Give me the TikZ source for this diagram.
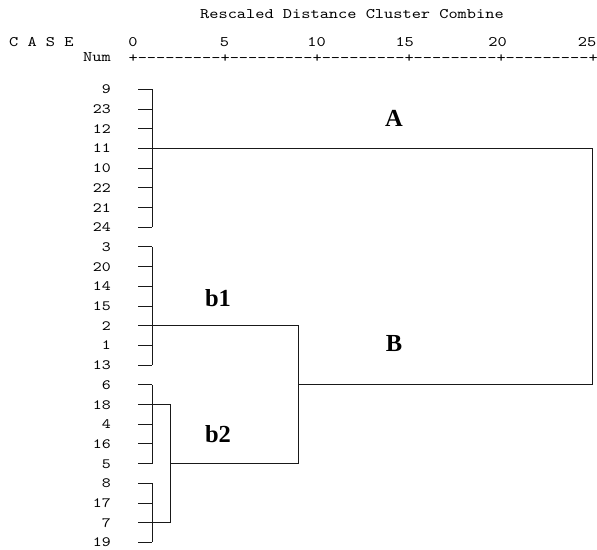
\documentclass[tikz,border=0pt]{standalone}
\usepackage{fontspec}
\setmainfont{Liberation Serif}
\newfontfamily\monof{lmmono10-regular.otf}[FakeStretch=1.2]
\begin{document}
\begin{tikzpicture}[x=1pt,y=-1pt,
  lbl/.style={font=\monof\fontsize{14.2}{16}\selectfont, anchor=base east, inner sep=0pt, text=black},
  axt/.style={font=\monof\fontsize{14.6}{18}\selectfont, inner sep=0pt, text=black},
  grp/.style={font=\bfseries\fontsize{24.5}{28}\selectfont, inner sep=0pt},
  den/.style={line width=0.9pt, black!90}]
\useasboundingbox (0,0) rectangle (597,549);
% header
\node[axt, anchor=base west] (title) at (200,18) {Rescaled Distance Cluster Combine};
\node[axt, anchor=base west] (case) at (9,46.5) {C A S E};
\node[axt, anchor=base east] (num) at (111,61) {Num};
\node[axt, anchor=base] (a0) at (133,46.5) {0};
\node[axt, anchor=base] (a5) at (224.5,46.5) {5};
\node[axt, anchor=base] (a10) at (316.5,46.5) {10};
\node[axt, anchor=base] (a15) at (404.7,46.5) {15};
\node[axt, anchor=base] (a20) at (497.5,46.5) {20};
\node[axt, anchor=base] (a25) at (587,46.5) {25};
\node[axt, anchor=base west] (axis) at (128.4,62) {+---------+---------+---------+---------+---------+};
% leaves
\foreach \lab [count=\i from 0] in {9,23,12,11,10,22,21,24,3,20,14,15,2,1,13,6,18,4,16,5,8,17,7,19} {
  \node[lbl] (n\lab) at (111,{89.3+19.7*\i+4.5}) {\lab};
  \coordinate (t\lab) at (138.3,{89.3+19.7*\i});
  \coordinate (v\lab) at (152,{89.3+19.7*\i});
  \draw[den] (t\lab) -- (v\lab);
}
% first-level clusters
\draw[den] (v9) -- (v24);
\draw[den] (v3) -- (v13);
\draw[den] (v6) -- (v5);
\draw[den] (v8) -- (v19);
% joins
\coordinate (s1) at (170.5,{89.3+19.7*16});
\coordinate (s2) at (170.5,{89.3+19.7*22});
\coordinate (b2l) at (170.5,{89.3+19.7*19});
\coordinate (b1r) at (298.3,{89.3+19.7*12});
\coordinate (b2r) at (298.3,{89.3+19.7*19});
\coordinate (bm) at (298.3,{89.3+19.7*15});
\coordinate (jA) at (592.3,{89.3+19.7*3});
\coordinate (jB) at (592.3,{89.3+19.7*15});
\draw[den] (v18) -- (s1) -- (s2) -- (v7);
\draw[den] (b2l) -- (b2r) -- (b1r) -- (v2);
\draw[den] (v11) -- (jA) -- (jB) -- (bm);
% group labels
\node[grp] (A) at (394,118) {A};
\node[grp] (B) at (394,344) {B};
\node[grp] (b1) at (218,298) {b1};
\node[grp] (b2) at (218,434) {b2};
\end{tikzpicture}
\end{document}
